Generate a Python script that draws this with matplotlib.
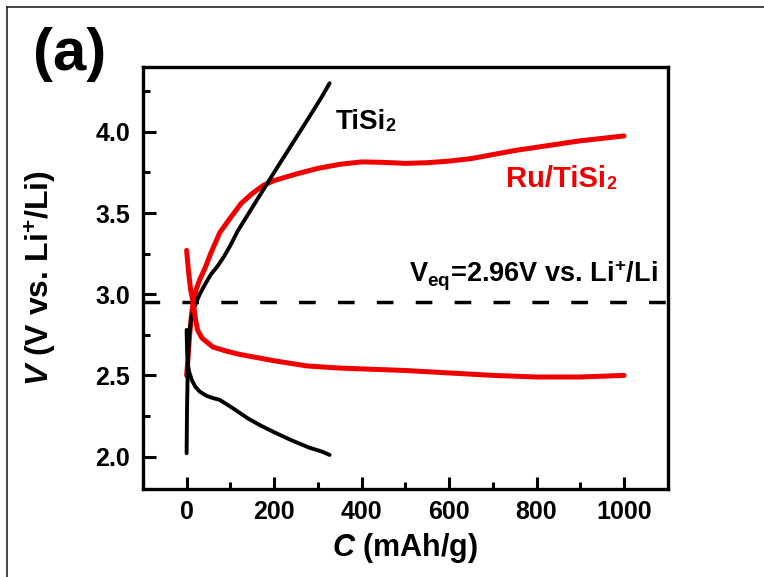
import matplotlib
matplotlib.use('Agg')
import matplotlib.pyplot as plt
from matplotlib.lines import Line2D
from matplotlib.ticker import MultipleLocator

plt.rcParams['font.family'] = ['Liberation Sans', 'DejaVu Sans']
plt.rcParams['font.weight'] = 'bold'
plt.rcParams['mathtext.fontset'] = 'custom'
plt.rcParams['mathtext.rm'] = 'Liberation Sans:bold'
plt.rcParams['mathtext.it'] = 'Liberation Sans:italic:bold'
plt.rcParams['mathtext.bf'] = 'Liberation Sans:bold'
plt.rcParams['lines.scale_dashes'] = False

# TiSi2 (black)
tisi_dis_c = [0, 1, 3, 6, 12, 20, 30, 45, 60, 75, 90, 110, 140, 170, 200, 240, 280, 310, 327]
tisi_dis_v = [2.78, 2.66, 2.57, 2.52, 2.47, 2.43, 2.40, 2.375, 2.36, 2.35, 2.325, 2.29,
              2.235, 2.19, 2.15, 2.10, 2.055, 2.03, 2.01]
tisi_chg_c = [0, 1, 3, 6, 10, 15, 22, 30, 40, 55, 70, 85, 100, 117, 140, 170, 200, 240, 280, 310, 327]
tisi_chg_v = [2.02, 2.3, 2.6, 2.75, 2.84, 2.90, 2.95, 3.00, 3.05, 3.12, 3.17, 3.23, 3.30, 3.39,
              3.49, 3.62, 3.75, 3.92, 4.09, 4.22, 4.30]

# Ru/TiSi2 (red)
ru_chg_c = [0, 3, 7, 11, 15, 22, 30, 42, 55, 76, 100, 125, 150, 175, 200, 250, 300, 350, 400,
            450, 500, 550, 600, 650, 700, 750, 800, 850, 900, 950, 1000]
ru_chg_v = [2.50, 2.60, 2.75, 2.87, 2.95, 3.03, 3.09, 3.16, 3.25, 3.38, 3.47, 3.56, 3.62, 3.67,
            3.70, 3.74, 3.775, 3.80, 3.815, 3.812, 3.806, 3.81, 3.82, 3.835, 3.86, 3.885,
            3.905, 3.925, 3.945, 3.96, 3.975]
ru_dis_c = [0, 4, 9, 15, 20, 25, 35, 60, 90, 120, 160, 200, 275, 350, 400, 500, 600, 700, 800, 900, 1000]
ru_dis_v = [3.27, 3.15, 3.03, 2.95, 2.85, 2.78, 2.73, 2.675, 2.65, 2.63, 2.61, 2.59, 2.558,
            2.545, 2.54, 2.53, 2.515, 2.50, 2.49, 2.49, 2.50]

v_eq = 2.95

red = '#f00000'

fig = plt.figure(figsize=(7.64, 5.77), dpi=100)
ax = fig.add_axes([0.187, 0.1525, 0.687, 0.7315])

ax.plot(ru_chg_c, ru_chg_v, color=red, lw=3.6, solid_capstyle='round', solid_joinstyle='round', zorder=2)
ax.plot(tisi_chg_c, tisi_chg_v, color='black', lw=2.8, solid_capstyle='round', solid_joinstyle='round', zorder=3)
ax.plot(tisi_dis_c, tisi_dis_v, color='black', lw=2.8, solid_capstyle='round', solid_joinstyle='round', zorder=3)
ax.plot(ru_dis_c, ru_dis_v, color=red, lw=3.6, solid_capstyle='round', solid_joinstyle='round', zorder=4)
ax.axhline(v_eq, color='black', lw=2.5, dashes=(12, 16), zorder=1)

ax.set_xlim(-100, 1100)
ax.set_ylim(1.8, 4.4)
ax.xaxis.set_major_locator(MultipleLocator(200))
ax.xaxis.set_minor_locator(MultipleLocator(100))
ax.yaxis.set_major_locator(MultipleLocator(0.5))
ax.yaxis.set_minor_locator(MultipleLocator(0.25))
ax.tick_params(which='both', direction='in', width=2.2, labelsize=18)
ax.tick_params(which='major', length=9)
ax.tick_params(which='minor', length=5)
ax.tick_params(axis='x', pad=8)
ax.tick_params(axis='y', pad=9)
ax.set_xticks([0, 200, 400, 600, 800, 1000])
ax.set_yticks([2.0, 2.5, 3.0, 3.5, 4.0])
ax.set_yticklabels(['2.0', '2.5', '3.0', '3.5', '4.0'])
for s in ax.spines.values():
    s.set_linewidth(2.4)

ax.set_xlabel(r'$\mathit{C}$ (mAh/g)', fontsize=22, fontweight='bold')
ax.set_ylabel(r'$\mathit{V}$ (V vs. Li$^{+}$/Li)', fontsize=23, fontweight='bold')
ax.xaxis.set_label_coords(0.5, -0.1)
ax.yaxis.set_label_coords(-0.16, 0.5)

t1 = ax.text(340, 4.02, 'TiSi', fontsize=20, fontweight='bold', color='black', va='baseline')
ax.annotate('2', xy=(1, 0), xycoords=t1, fontsize=13, fontweight='bold', color='black', va='bottom')
t2 = ax.text(731, 3.66, 'Ru/TiSi', fontsize=21, fontweight='bold', color=red, va='baseline')
ax.annotate('2', xy=(1, 0), xycoords=t2, fontsize=13, fontweight='bold', color=red, va='bottom')
ax.text(793, 3.07, r'V$_{\mathrm{eq}}$=2.96V vs. Li$^{+}$/Li', fontsize=19.5, fontweight='bold',
        ha='center', va='baseline')

fig.text(0.043, 0.905, '(a)', fontsize=43, fontweight='bold', va='center', ha='left')

# outer frame (top and left edges visible)
fig.add_artist(Line2D([7 / 764, 1], [1 - 7 / 577, 1 - 7 / 577], transform=fig.transFigure, color='#222222', lw=1.2))
fig.add_artist(Line2D([7 / 764, 7 / 764], [0, 1 - 7 / 577], transform=fig.transFigure, color='#222222', lw=1.2))

fig.savefig('out.png', dpi=100)
